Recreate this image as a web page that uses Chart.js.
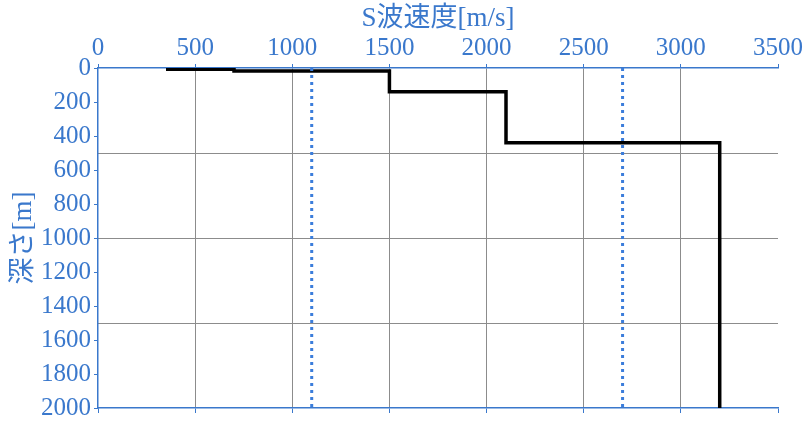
<!DOCTYPE html>
<html>
<head>
<meta charset="utf-8">
<script src="https://cdn.jsdelivr.net/npm/chart.js@4/dist/chart.umd.min.js"></script>
<style>
  html, body { margin: 0; padding: 0; background: #fff; }
  #wrap { width: 810px; height: 426px; }
</style>
</head>
<body>
<div id="wrap"><canvas id="myChart" width="810" height="426"></canvas></div>
<script>
'use strict'

// S-wave velocity profile (step line): velocity [m/s] vs depth [m]
const stepVelocity = [350, 700, 700, 1500, 1500, 2100, 2100, 3200, 3200]
const stepDepth = [8, 8, 17, 17, 140, 140, 440, 440, 2000]

// reference velocities drawn as dotted verticals
const refVelocities = [1100, 2700]
const refDepth = [0, 2000]

const xTicks = [0, 500, 1000, 1500, 2000, 2500, 3000, 3500]
const yTicks = [0, 200, 400, 600, 800, 1000, 1200, 1400, 1600, 1800, 2000]

const BLUE = '#3a78cc'
const FONT = '"Liberation Serif", "Noto Sans CJK JP", serif'

const toPoints = (xs, ys) => xs.map((x, i) => ({ x: x, y: ys[i] }))

const datasets = refVelocities.map(v => ({
	data: toPoints([v, v], refDepth),
	borderColor: '#3b7ddb',
	borderWidth: 3,
	borderDash: [3, 4],
	pointRadius: 0,
	showLine: true
}))
datasets.push({
	data: toPoints(stepVelocity, stepDepth),
	borderColor: '#000',
	borderWidth: 3.5,
	pointRadius: 0,
	showLine: true
})

const plainLabel = v => String(v)

const chartElement = document.querySelector('#myChart')
if (chartElement == null) {
	console.error('Chart not found.')
} else {
	new Chart(chartElement, {
		type: 'scatter',
		data: { datasets: datasets },
		options: {
			responsive: false,
			animation: false,
			layout: { padding: { top: 0, left: 0, right: 32, bottom: 0 } },
			plugins: { legend: { display: false }, tooltip: { enabled: false } },
			scales: {
				x: {
					type: 'linear', position: 'top', min: 0, max: 3500,
					afterBuildTicks: s => { s.ticks = xTicks.map(v => ({ value: v })) },
					afterFit: s => { s.height = 68 },
					ticks: { color: BLUE, font: { family: FONT, size: 25 }, padding: 1, maxRotation: 0, callback: plainLabel },
					grid: {
						color: c => (c.tick && (c.tick.value === 0 || c.tick.value === 3500)) ? 'rgba(0,0,0,0)' : '#8c8c8c',
						tickColor: BLUE, tickLength: 4, lineWidth: 1
					},
					border: { color: BLUE, width: 1.5 },
					title: { display: true, text: 'S波速度[m/s]', color: BLUE, font: { family: FONT, size: 27 }, padding: { top: 3, bottom: 0 } }
				},
				x2: {
					type: 'linear', position: 'bottom', min: 0, max: 3500,
					afterBuildTicks: s => { s.ticks = xTicks.map(v => ({ value: v })) },
					afterFit: s => { s.height = 17 },
					ticks: { display: false },
					grid: { drawOnChartArea: false, tickColor: BLUE, tickLength: 5 },
					border: { color: BLUE, width: 1.5 }
				},
				y: {
					type: 'linear', position: 'left', reverse: true, min: 0, max: 2000,
					afterBuildTicks: s => { s.ticks = yTicks.map(v => ({ value: v })) },
					afterFit: s => { s.width = 98 },
					ticks: { color: BLUE, font: { family: FONT, size: 25 }, padding: 3, callback: plainLabel },
					grid: { drawOnChartArea: false, tickColor: BLUE, tickLength: 4 },
					border: { color: BLUE, width: 1.5 },
					title: { display: true, text: '深さ[m]', color: BLUE, font: { family: FONT, size: 27 }, padding: { top: 8, bottom: 0 } }
				},
				y2: {
					type: 'linear', position: 'left', reverse: true, min: 0, max: 2000,
					afterBuildTicks: s => { s.ticks = [500, 1000, 1500].map(v => ({ value: v })) },
					afterFit: s => { s.width = 0 },
					ticks: { display: false },
					grid: { color: '#8c8c8c', lineWidth: 1, drawTicks: false },
					border: { display: false }
				}
			}
		}
	})
}
</script>
</body>
</html>
